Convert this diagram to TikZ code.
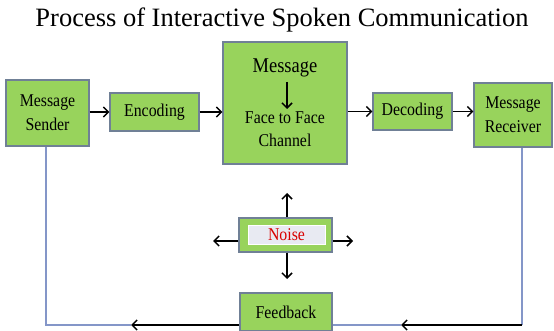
\documentclass[tikz,border=0pt]{standalone}
\usepackage{fontspec}
\setmainfont{Liberation Serif}
\newfontfamily\boxfont[FakeStretch=0.88]{Liberation Serif}
\usepackage{tikz}
\usetikzlibrary{arrows,arrows.meta}
\usetikzlibrary{shapes.geometric,calc}

\definecolor{boxgreen}{RGB}{152,211,92}
\definecolor{boxedge}{RGB}{112,128,150}
\definecolor{loopblue}{RGB}{132,150,200}
\definecolor{noisebg}{RGB}{232,234,242}

\begin{document}
\begin{tikzpicture}[x=1pt,y=-1pt,
		>={Straight Barb[length=5pt,width=10pt]},
		box/.style={draw=boxedge,line width=1.2pt,fill=boxgreen,inner sep=0pt,align=center,
			font=\boxfont\fontsize{18}{24}\selectfont},
		flow/.style={->,line width=1.5pt,black},
		back/.style={line width=1.5pt,loopblue}]
		\useasboundingbox (0,0) rectangle (554,331);

		\node(title) at (282,20) {\fontsize{26.5}{30}\selectfont Process of Interactive Spoken Communication};

		\node[box,minimum width=83pt,minimum height=66pt](sender) at (47.5,113) {Message\\Sender};
		\node[box,minimum width=89pt,minimum height=38pt](encoding) at (154.5,112) {Encoding};
		\node[box,minimum width=124pt,minimum height=122pt](message) at (285,103) {};
		\node[box,minimum width=79pt,minimum height=37pt](decoding) at (412.5,111.5) {Decoding};
		\node[box,minimum width=78pt,minimum height=64pt](receiver) at (513,115) {Message\\Receiver};
		\node[box,minimum width=93pt,minimum height=34pt](noise) at (285.5,235) {};
		\node[box,minimum width=92pt,minimum height=38pt](feedback) at (286,312) {Feedback};

		% inside the channel box
		\node[font=\boxfont\fontsize{21}{24}\selectfont,inner sep=1pt](msgtop) at (285,68) {Message};
		\node[font=\boxfont\fontsize{18}{23}\selectfont,align=center,inner sep=1pt](msgbody) at (285,129) {Face to Face\\Channel};
		\coordinate(mt) at (287,82);
		\coordinate(mb) at (287,109);
		\draw[flow] (mt)--(mb);

		\node[fill=noisebg,draw=white,minimum width=77pt,minimum height=19pt,inner sep=0pt,
			text=red!85!black,font=\boxfont\fontsize{18}{20}\selectfont](noisetxt) at (286.5,234.5) {Noise};

		% top row
		\draw[flow] (sender.east |- encoding)--(encoding.west);
		\draw[flow] (encoding)--(message.west |- encoding);
		\draw[flow] (message.east |- decoding)--(decoding.west);
		\draw[flow] (decoding)--(receiver.west |- decoding);

		% noise spreading out
		\coordinate(nup) at (287,193);
		\coordinate(ndown) at (287,279);
		\coordinate(nleft) at (213,241);
		\coordinate(nright) at (353,241);
		\draw[flow] (noise.north -| nup)--(nup);
		\draw[flow] (noise.south -| ndown)--(ndown);
		\draw[flow] (noise.west |- nleft)--(nleft);
		\draw[flow] (noise.east |- nright)--(nright);

		% feedback loop
		\coordinate(lc) at (46,325);
		\coordinate(la) at (131,325);
		\coordinate(fa) at (401,325);
		\coordinate(rc) at (522,325);
		\draw[back] (sender.south -| lc)--(lc)--(la);
		\draw[flow] (feedback.west |- la)--(la);
		\draw[back] (receiver.south -| rc)--(rc);
		\draw[flow] (rc)--(fa);
		\draw[back] (fa)--(feedback.east |- fa);
	\end{tikzpicture}
\end{document}
